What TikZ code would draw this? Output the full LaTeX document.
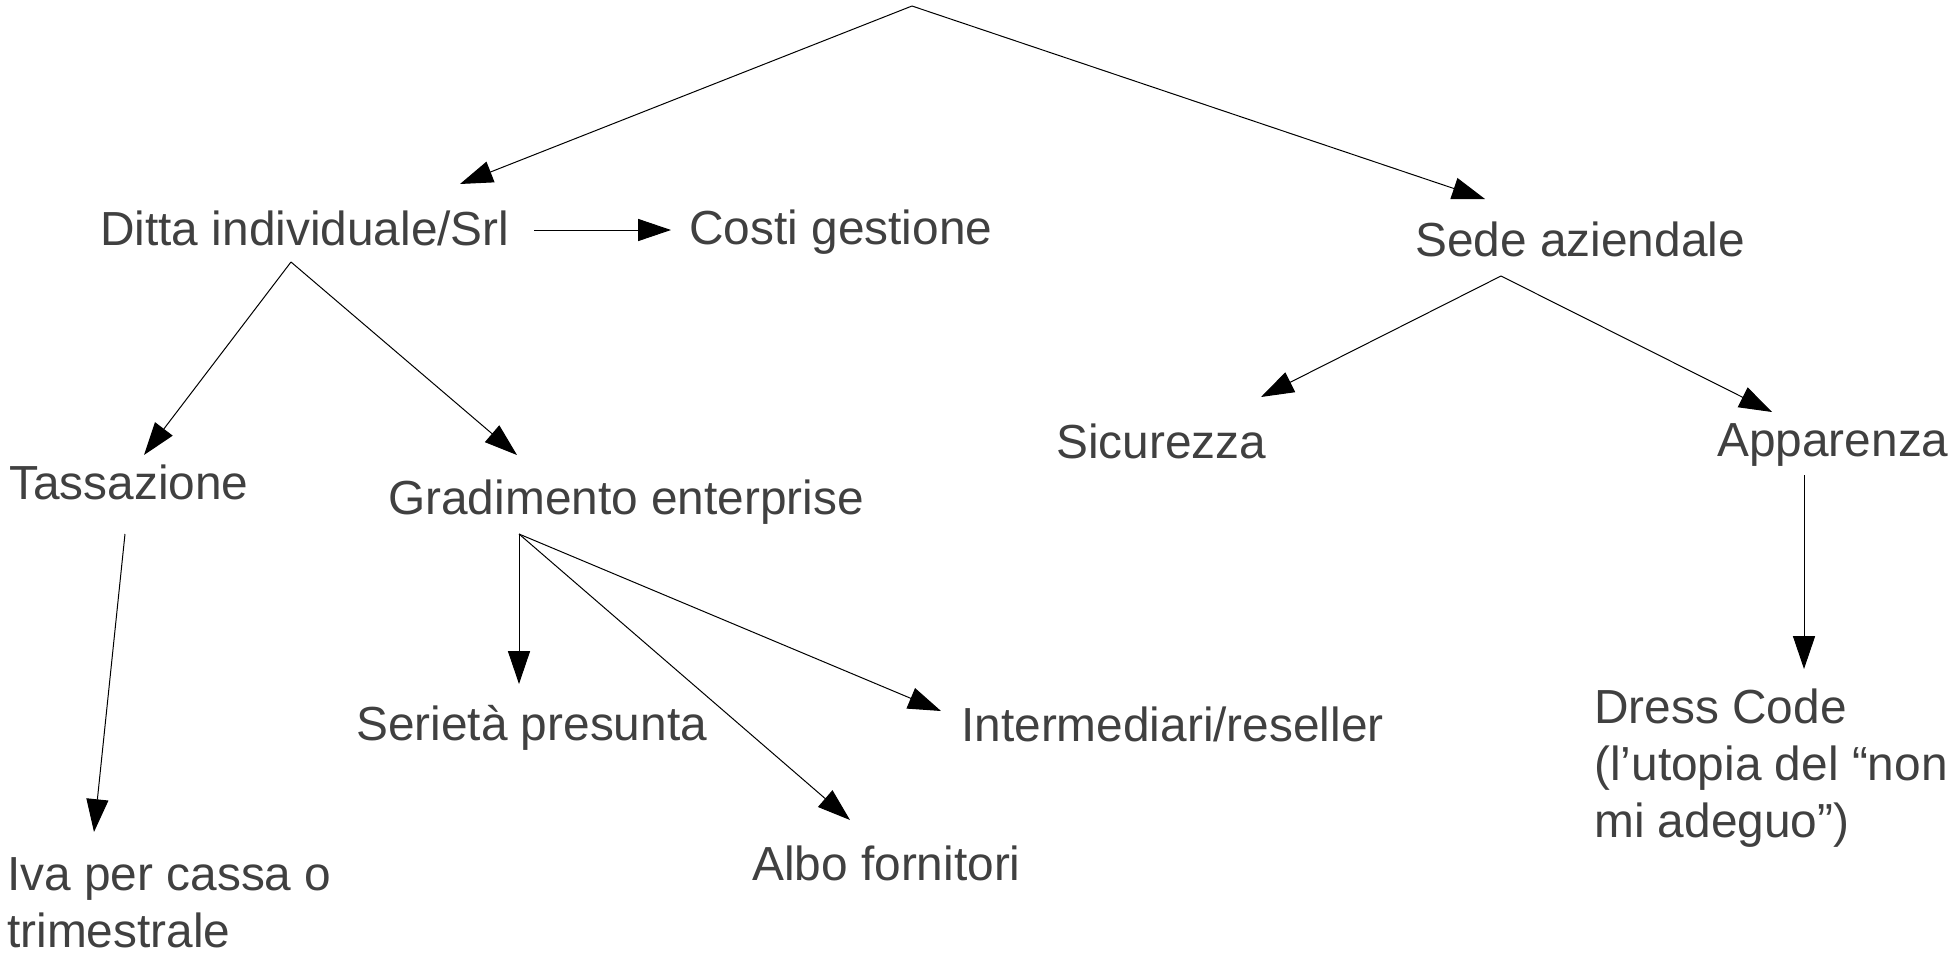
\documentclass[tikz,border=0pt]{standalone}
\usepackage{fontspec}
\setmainfont{Liberation Sans}
\usetikzlibrary{arrows.meta}
\definecolor{testo}{HTML}{404040}
\begin{document}
\begin{tikzpicture}[x=0.025cm, y=-0.025cm]
  \useasboundingbox (0, 0) rectangle (1960, 961);  % margini come l'originale
  \tikzstyle{lbl}=[anchor=base west, inner sep=0pt, text=testo, align=left,
    font=\fontsize{34}{40.5}\selectfont]
  \tikzstyle{arr}=[-{Triangle[length=0.82cm, width=0.55cm]}, line width=0.025cm]

  \coordinate (root) at (912, 6);

  \node[lbl] (ditta) at (100, 245)  {Ditta individuale/Srl};
  \node[lbl] (costi) at (689, 244)  {Costi gestione};
  \node[lbl] (sede)  at (1415, 256) {Sede aziendale};

  \node[lbl] (tass)  at (9, 499)    {Tassazione};
  \node[lbl] (grad)  at (388, 514)  {Gradimento enterprise};
  \node[lbl] (sicu)  at (1056, 458) {Sicurezza};
  \node[lbl] (appa)  at (1717, 456) {Apparenza};

  \node[lbl] (seri)  at (356, 740)  {Serietà presunta};
  \node[lbl] (inter) at (961, 741)  {Intermediari/reseller};
  \node[lbl] (albo)  at (752, 880)  {Albo fornitori};
  % nodi su piu' righe: base = ultima riga
  \node[lbl] (iva)   at (7, 947)    {Iva per cassa o\\trimestrale};
  \node[lbl] (dress) at (1594, 837) {Dress Code\\(l’utopia del “non\\mi adeguo”)};

  \draw[arr] (root) -- ([shift={(360,-61)}]ditta.base west);
  \draw[arr] (root) -- ([shift={(70,-57)}]sede.base west);
  \draw[arr] ([shift={(434,-15)}]ditta.base west) -- ([shift={(-18,-14)}]costi.base west);
  \draw[arr] ([shift={(191,17)}]ditta.base west) -- ([shift={(135,-44)}]tass.base west);
  \draw[arr] ([shift={(191,17)}]ditta.base west) -- ([shift={(129,-59)}]grad.base west);
  \draw[arr] ([shift={(116,35)}]tass.base west) -- ([shift={(87,-115)}]iva.base west);
  \draw[arr] ([shift={(131,20)}]grad.base west) -- ([shift={(163,-56)}]seri.base west);
  \draw[arr] ([shift={(131,20)}]grad.base west) -- ([shift={(98,-60)}]albo.base west);
  \draw[arr] ([shift={(131,20)}]grad.base west) -- ([shift={(-20,-30)}]inter.base west);
  \draw[arr] ([shift={(86,20)}]sede.base west) -- ([shift={(205,-61)}]sicu.base west);
  \draw[arr] ([shift={(86,20)}]sede.base west) -- ([shift={(55,-44)}]appa.base west);
  \draw[arr] ([shift={(87,19)}]appa.base west) -- ([shift={(210,-168)}]dress.base west);
\end{tikzpicture}
\end{document}
